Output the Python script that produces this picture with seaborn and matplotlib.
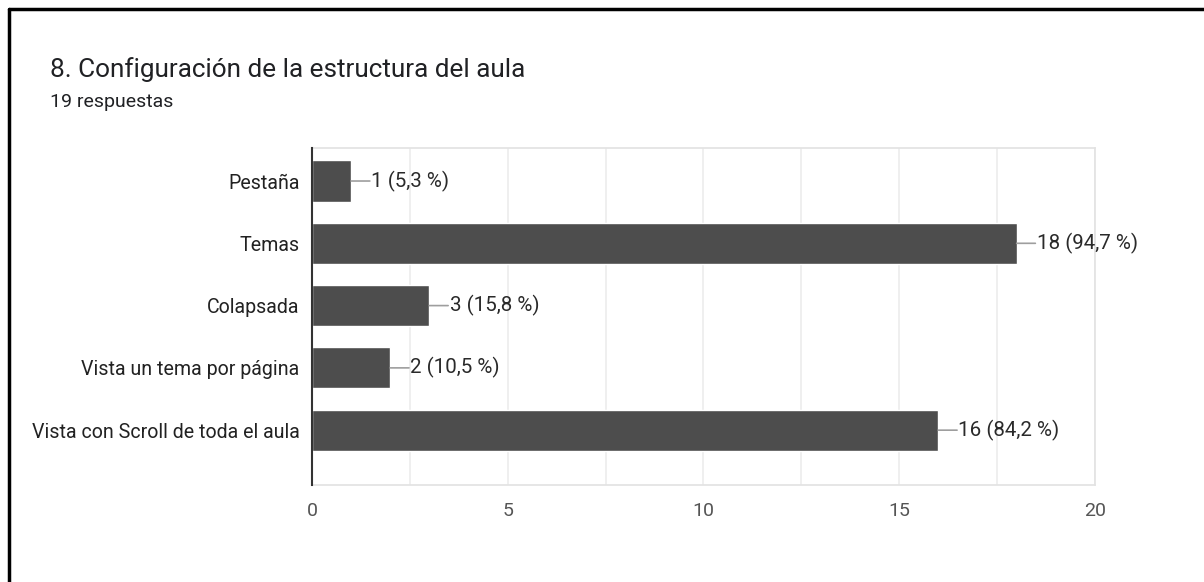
import numpy as np
import pandas as pd
import matplotlib.pyplot as plt
from matplotlib.lines import Line2D
import seaborn as sns

categories = ["Pestaña", "Temas", "Colapsada", "Vista un tema por página",
              "Vista con Scroll de toda el aula"]
counts = [1, 18, 3, 2, 16]
pct_labels = ["5,3 %", "94,7 %", "15,8 %", "10,5 %", "84,2 %"]
x_ticks = [0, 5, 10, 15, 20]

sns.set_style("white")
plt.rcParams["font.family"] = ["Roboto", "DejaVu Sans"]

df = pd.DataFrame({"opcion": categories, "n": counts})

fig = plt.figure(figsize=(12.04, 5.82), dpi=100)
ax = fig.add_axes([0.2591, 0.1667, 0.6503, 0.579])

sns.barplot(data=df, x="n", y="opcion", orient="h", color="#4d4d4d",
            width=0.66, saturation=1, ax=ax, zorder=3)

ax.set_xlim(0, 20)
ax.set_ylim(4.88, -0.53)
ax.set_xticks(x_ticks)
ax.set_xticks(np.arange(0, 20.1, 2.5), minor=True)
ax.grid(axis="x", which="both", color="#ececec", linewidth=1.2, zorder=0)
ax.tick_params(axis="x", which="both", length=0, pad=12, labelsize=14, labelcolor="#555555")
ax.tick_params(axis="y", length=0, pad=9, labelsize=14.1, labelcolor="#222222")
ax.set_xlabel("")
ax.set_ylabel("")

for side in ["top", "right", "bottom"]:
    ax.spines[side].set_color("#e2e2e2")
    ax.spines[side].set_linewidth(1.2)
ax.spines["left"].set_color("#333333")
ax.spines["left"].set_linewidth(1.5)
ax.spines["left"].set_zorder(4)

# leader lines + value labels
for i, (n, p) in enumerate(zip(counts, pct_labels)):
    ax.annotate("", xy=(n, i), xytext=(13.5, 0), textcoords="offset points",
                arrowprops=dict(arrowstyle="-", color="#9e9e9e", lw=1.2,
                                shrinkA=0, shrinkB=0))
    ax.annotate(f"{n} ({p})", xy=(n, i), xytext=(14.5, 0), textcoords="offset points",
                va="center", ha="left", fontsize=14.8, color="#2a2a2a")

fig.text(50 / 1204, 1 - 70 / 582, "8. Configuración de la estructura del aula",
         fontsize=18.8, color="#202124", va="center", ha="left")
fig.text(50 / 1204, 1 - 102 / 582, "19 respuestas",
         fontsize=14, color="#202124", va="center", ha="left")

# frame edges (top and left)
fig.add_artist(Line2D([9 / 1204, 1], [1 - 9 / 582, 1 - 9 / 582], color="black", lw=2.5))
fig.add_artist(Line2D([9 / 1204, 9 / 1204], [0, 1 - 9 / 582], color="black", lw=2.5))

fig.savefig("out.png", dpi=100)
